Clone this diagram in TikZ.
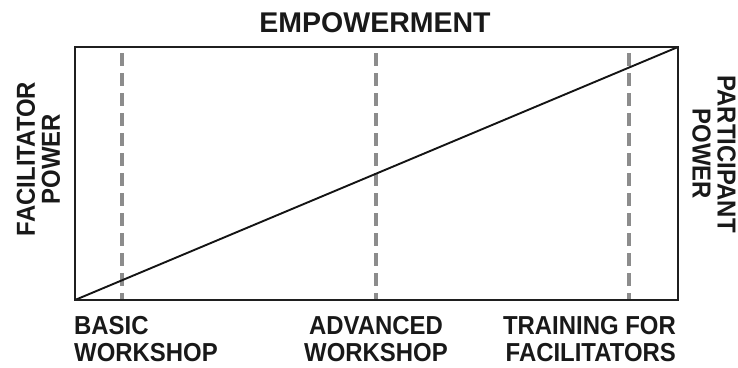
\documentclass[tikz,border=0pt]{standalone}
\usepackage{fontspec}
\setmainfont{Liberation Sans}
% slightly condensed face for the stage and axis labels
\newfontfamily\lblfont[FakeStretch=0.92]{Liberation Sans}
\begin{document}
\begin{tikzpicture}[x=1pt,y=-1pt,
  lbl/.style={font=\lblfont\bfseries\fontsize{26}{27}\selectfont, text=black!90, inner sep=0pt},
  stagelbl/.style={lbl, text depth=0pt},
  axislbl/.style={lbl, font=\lblfont\bfseries\fontsize{26}{25}\selectfont},
  frame/.style={draw=black!88, line width=2.4pt},
  ramp/.style={draw=black!92, line width=1.9pt},
  stage/.style={draw=black!45, line width=4pt, dash pattern=on 13pt off 7pt}]
\useasboundingbox (0,0) rectangle (738,367);
% corners of the chart area
\coordinate (bl) at (75,300);
\coordinate (tr) at (678,47);
\coordinate (tl) at (75,47);
\coordinate (br) at (678,300);
% workshop stages
\coordinate (s1t) at (122,53); \coordinate (s1b) at (122,299);
\coordinate (s2t) at (376,53); \coordinate (s2b) at (376,299);
\coordinate (s3t) at (629,53); \coordinate (s3b) at (629,299);
\draw[stage] (s1t) -- (s1b);
\draw[stage] (s2t) -- (s2b);
\draw[stage] (s3t) -- (s3b);
% shift of power
\draw[ramp] (bl) -- (tr);
\draw[frame] (tl) rectangle (br);
% title and axis labels
\node[lbl, font=\bfseries\fontsize{28.5}{28}\selectfont] (title) at (375,22.5) {EMPOWERMENT};
\node[axislbl, rotate=90, align=center] (fp) at (38.5,159) {FACILITATOR\\POWER};
\node[axislbl, rotate=-90, align=center] (pp) at (714,154) {PARTICIPANT\\POWER};
\node[stagelbl, anchor=north west, align=left] (basic) at (74,316) {BASIC\\WORKSHOP};
\node[stagelbl, anchor=north, align=center] (adv) at (376,316) {ADVANCED\\WORKSHOP};
\node[stagelbl, anchor=north east, align=right] (tff) at (676,316) {TRAINING FOR\\FACILITATORS};
\end{tikzpicture}
\end{document}
